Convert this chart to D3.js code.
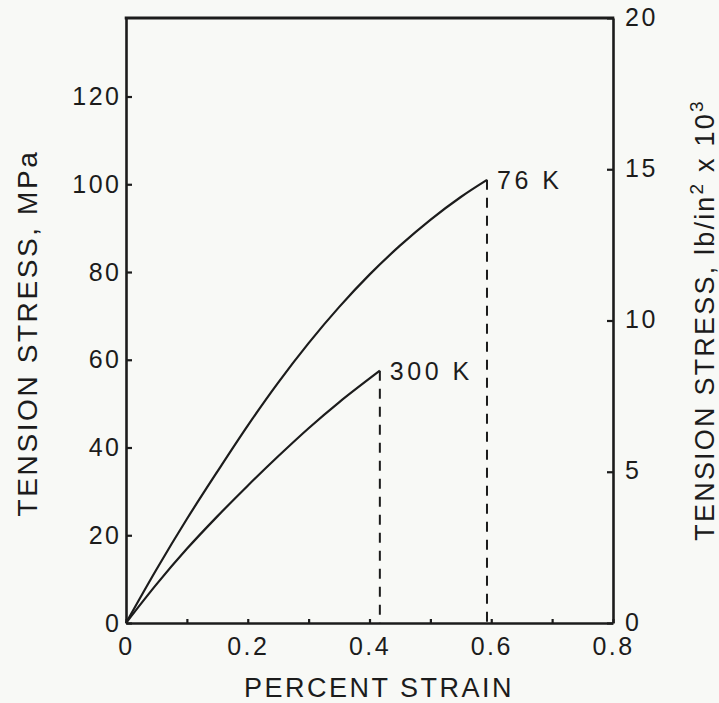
<!DOCTYPE html>
<html>
<head>
<meta charset="utf-8">
<script src="https://cdn.jsdelivr.net/npm/d3@7"></script>
<style>
  html, body { margin: 0; padding: 0; background: #f8f9f6; }
  svg { display: block; }
  text { font-family: "Liberation Sans", Arial, Helvetica, sans-serif; fill: #1c1c1c; }
</style>
</head>
<body>
<svg id="chart" width="719" height="703"></svg>
<script>
// Stress–strain curves (strain in %, stress in MPa)
const curve76K = [
  [0, 0], [0.05, 12.2], [0.10, 23.7], [0.15, 34.5], [0.20, 45.0], [0.25, 54.8],
  [0.30, 63.8], [0.35, 72.0], [0.40, 79.4], [0.45, 86.0], [0.50, 91.9],
  [0.55, 97.1], [0.593, 101]
];
const curve300K = [
  [0, 0], [0.05, 8.8], [0.10, 16.9], [0.15, 24.3], [0.20, 31.3], [0.25, 38.0],
  [0.30, 44.4], [0.35, 50.3], [0.417, 57.5]
];
const curveLabels = ["76 K", "300 K"];

// Axis ticks
const strainTicks = [0, 0.1, 0.2, 0.3, 0.4, 0.5, 0.6, 0.7, 0.8];
const mpaTicks = [0, 20, 40, 60, 80, 100, 120];
const ksiTicks = [0, 5, 10, 15, 20];

const MPA_PER_KSI = 6.894757;

const svg = d3.select("#chart");
const plotLeft = 126, plotRight = 613, plotTop = 18, plotBottom = 623;

const x = d3.scaleLinear().domain([0, 0.8]).range([plotLeft, plotRight]);
const yMPa = d3.scaleLinear().domain([0, 20 * MPA_PER_KSI]).range([plotBottom, plotTop]);
const yKsi = d3.scaleLinear().domain([0, 20]).range([plotBottom, plotTop]);

const ink = "#1c1c1c";

// Bottom axis: minor ticks every 0.1, labels every 0.2
const xAxis = d3.axisBottom(x)
  .tickValues(strainTicks)
  .tickSizeInner(-4).tickSizeOuter(0).tickPadding(14)
  .tickFormat(d => (Math.round(d * 10) % 2 === 0) ? (d === 0 ? "0" : d3.format(".1f")(d)) : "");
const gx = svg.append("g").attr("transform", `translate(0,${plotBottom})`).call(xAxis);

// Left axis (MPa)
const yAxisL = d3.axisLeft(yMPa)
  .tickValues(mpaTicks)
  .tickSizeInner(-6).tickSizeOuter(0).tickPadding(7)
  .tickFormat(d3.format("d"));
const gyl = svg.append("g").attr("transform", `translate(${plotLeft},0)`).call(yAxisL);

// Right axis (ksi)
const yAxisR = d3.axisRight(yKsi)
  .tickValues(ksiTicks)
  .tickSizeInner(-6).tickSizeOuter(0).tickPadding(12)
  .tickFormat(d3.format("d"));
const gyr = svg.append("g").attr("transform", `translate(${plotRight},0)`).call(yAxisR);

[gx, gyl, gyr].forEach(g => {
  g.select(".domain").attr("stroke", ink).attr("stroke-width", 2.6);
  g.selectAll(".tick line").attr("stroke", ink).attr("stroke-width", 2.2);
  g.selectAll(".tick text")
    .attr("fill", ink)
    .style("font-family", "'Liberation Sans', Arial, sans-serif")
    .style("font-size", "25px")
    .style("letter-spacing", "2.5px");
});
gyl.selectAll(".tick text").attr("dx", "2.5px");
gyr.selectAll(".tick text").attr("dy", "0.28em");

// Top frame line
svg.append("line")
  .attr("x1", x(0) - 1.3).attr("x2", x(0.8) + 1.3)
  .attr("y1", yKsi(20)).attr("y2", yKsi(20))
  .attr("stroke", ink).attr("stroke-width", 3);

// Curves
const line = d3.line()
  .x(d => x(d[0]))
  .y(d => yMPa(d[1]))
  .curve(d3.curveCatmullRom.alpha(0.5));

[curve76K, curve300K].forEach((data, i) => {
  svg.append("path")
    .datum(data)
    .attr("d", line)
    .attr("fill", "none")
    .attr("stroke", ink)
    .attr("stroke-width", 2.2);

  const end = data[data.length - 1];
  // fracture point: dashed drop to the strain axis
  svg.append("line")
    .attr("x1", x(end[0])).attr("x2", x(end[0]))
    .attr("y1", yMPa(end[1])).attr("y2", yMPa(0))
    .attr("stroke", ink)
    .attr("stroke-width", 2)
    .attr("stroke-dasharray", "10,8");

  svg.append("text")
    .attr("x", x(end[0]) + 10)
    .attr("y", yMPa(end[1]) + 9)
    .style("font-size", "25px")
    .style("letter-spacing", "3.5px")
    .text(curveLabels[i]);
});

// Axis titles
svg.append("text")
  .attr("x", 379)
  .attr("y", 697)
  .attr("text-anchor", "middle")
  .style("font-size", "27px")
  .style("letter-spacing", "2.5px")
  .text("PERCENT STRAIN");

svg.append("text")
  .attr("transform", "translate(37,333) rotate(-90)")
  .attr("text-anchor", "middle")
  .style("font-size", "28px")
  .style("letter-spacing", "2.6px")
  .text("TENSION STRESS, MPa");

const rt = svg.append("text")
  .attr("transform", "translate(714,320) rotate(-90)")
  .attr("text-anchor", "middle")
  .style("font-size", "27px")
  .style("letter-spacing", "2.2px");
rt.append("tspan").text("TENSION STRESS, lb/in");
rt.append("tspan").attr("dy", -11).style("font-size", "19px").text("2");
rt.append("tspan").attr("dy", 11).text(" x 10");
rt.append("tspan").attr("dy", -11).style("font-size", "19px").text("3");
</script>
</body>
</html>
